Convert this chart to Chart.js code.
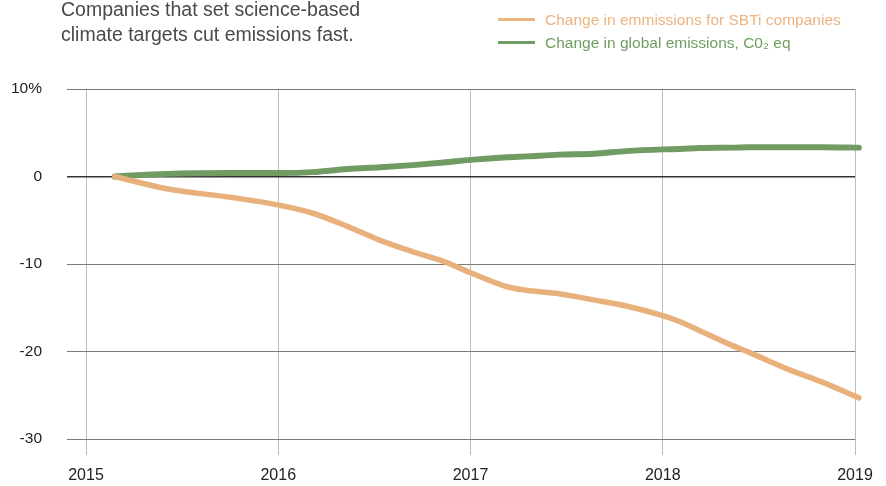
<!DOCTYPE html>
<html>
<head>
<meta charset="utf-8">
<script src="https://cdn.jsdelivr.net/npm/chart.js@4.4.1/dist/chart.umd.min.js"></script>
<style>
  html, body { margin: 0; padding: 0; background: #fff; }
  #wrap { position: relative; width: 886px; height: 486px; font-family: "Liberation Sans", Arial, sans-serif; }
  #title { position: absolute; left: 61px; top: -3px; font-size: 19.5px; line-height: 25px; color: #4a4a4a; }
  #legend { position: absolute; left: 498px; top: 8px; font-size: 15.5px; line-height: 23px; }
  .li { display: flex; align-items: center; white-space: nowrap; }
  .sw { display: inline-block; width: 37px; height: 2.5px; margin-right: 10px; }
  canvas { position: absolute; left: 0; top: 0; }
</style>
</head>
<body>
<div id="wrap">
  <canvas id="c" width="886" height="486"></canvas>
  <div id="title">Companies that set science-based<br>climate targets cut emissions fast.</div>
  <div id="legend"></div>
</div>
<script>
// Data
const years = [2015.15, 2015.42, 2015.76, 2016.01, 2016.18, 2016.36, 2016.53, 2016.70, 2016.86, 2017.00,
               2017.19, 2017.29, 2017.46, 2017.64, 2017.81, 2018.00, 2018.09, 2018.19, 2018.36, 2018.45,
               2018.66, 2018.83, 2019.02];
const sbtiChange = [0, -1.4, -2.4, -3.3, -4.2, -5.7, -7.3, -8.6, -9.7, -11.0,
                    -12.6, -13.0, -13.4, -14.1, -14.8, -15.9, -16.6, -17.6, -19.3, -20.1,
                    -22.1, -23.5, -25.3];
const globalChange = [0, 0.3, 0.4, 0.4, 0.5, 0.85, 1.05, 1.3, 1.6, 1.9,
                      2.2, 2.3, 2.5, 2.6, 2.9, 3.1, 3.15, 3.25, 3.3, 3.35,
                      3.35, 3.35, 3.3];
const xTicks = [2015, 2016, 2017, 2018, 2019];
const yTicks = [10, 0, -10, -20, -30];
const seriesNames = ["Change in emmissions for SBTi companies", "Change in global emissions, C0\u2082 eq"];

const orange = "rgb(232,176,122)";
const green = "rgb(112,155,98)";
const legendColors = ["rgb(236,180,128)", "rgb(112,158,98)"];

const lg = document.getElementById('legend');
seriesNames.forEach((n, i) => {
  const d = document.createElement('div');
  d.className = 'li';
  d.innerHTML = '<span class="sw" style="background:' + legendColors[i] + '"></span><span style="color:' + legendColors[i] + '">' + n + '</span>';
  lg.appendChild(d);
});

const xFont = { family: "'Liberation Sans', Arial, sans-serif", size: 16 };
const yFont = { family: "'Liberation Sans', Arial, sans-serif", size: 15.5 };

new Chart(document.getElementById('c'), {
  type: 'line',
  data: {
    datasets: [
      { label: seriesNames[0], data: years.map((x, i) => ({ x, y: sbtiChange[i] })),
        borderColor: orange, borderWidth: 5.5, pointRadius: 0, cubicInterpolationMode: 'monotone', borderCapStyle: 'round', borderJoinStyle: 'round', clip: false },
      { label: seriesNames[1], data: years.map((x, i) => ({ x, y: globalChange[i] })),
        borderColor: green, borderWidth: 6, pointRadius: 0, cubicInterpolationMode: 'monotone', borderCapStyle: 'round', borderJoinStyle: 'round', clip: false }
    ]
  },
  options: {
    responsive: false,
    animation: false,
    events: [],
    layout: { padding: { top: 89, right: 31, left: 0, bottom: 0 } },
    plugins: { legend: { display: false }, tooltip: { enabled: false } },
    scales: {
      x: {
        type: 'linear', min: 2015, max: 2019,
        afterBuildTicks: s => { s.ticks = xTicks.map(v => ({ value: v })); },
        afterFit: s => { s.height = 47; },
        grid: { color: '#bdbdbd', lineWidth: 1, drawTicks: true, tickLength: 16, tickColor: '#bdbdbd' },
        border: { display: false },
        ticks: { color: '#222', font: xFont, padding: 11, maxRotation: 0, callback: v => String(v) }
      },
      y: {
        min: -30, max: 10,
        afterBuildTicks: s => { s.ticks = yTicks.map(v => ({ value: v })); },
        afterFit: s => { s.width = 86; },
        grid: {
          color: ctx => ctx.tick && ctx.tick.value === 0 ? '#333' : '#7a7a7a',
          lineWidth: ctx => ctx.tick && ctx.tick.value === 0 ? 1.5 : 1,
          drawTicks: true, tickLength: 19
        },
        border: { display: false },
        ticks: { color: '#222', font: yFont, padding: 25, callback: v => v === 10 ? '10%' : String(v) }
      }
    }
  }
});
</script>
</body>
</html>
